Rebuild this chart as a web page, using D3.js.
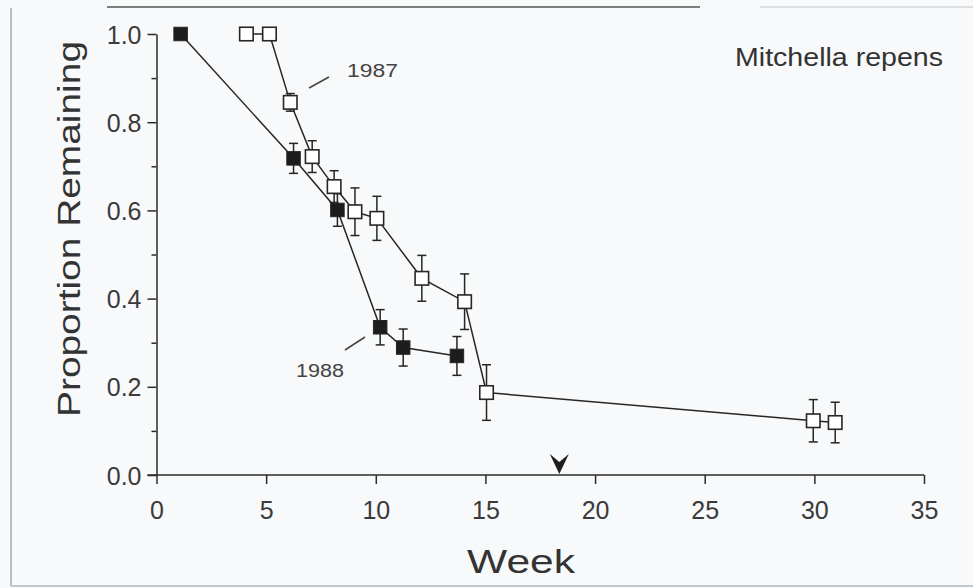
<!DOCTYPE html>
<html>
<head>
<meta charset="utf-8">
<script src="https://cdn.jsdelivr.net/npm/d3@7"></script>
<style>
  html, body { margin: 0; padding: 0; background: #f8f9fa; }
  svg { display: block; }
  text { font-family: "Liberation Sans", Arial, Helvetica, sans-serif; fill: #2b2b2b; }
  .axis path, .axis line { stroke: #2b2b2b; stroke-width: 1.5; }
  .axis text { font-size: 25px; fill: #3a3a3a; }
</style>
</head>
<body>
<div id="chart"></div>
<script>
// 1987 series (open squares)
let weeks1987 = [4.1, 5.15, 6.1, 7.1, 8.1, 9.05, 10.05, 12.1, 14.05, 15.05, 29.95, 30.95];
let prop1987  = [1.0, 1.0, 0.845, 0.722, 0.654, 0.597, 0.582, 0.446, 0.393, 0.187, 0.123, 0.119];
let err1987   = [0, 0, 0.02, 0.036, 0.036, 0.054, 0.05, 0.052, 0.063, 0.063, 0.048, 0.046];

// 1988 series (filled squares)
let weeks1988 = [1.1, 6.25, 8.25, 10.2, 11.25, 13.7];
let prop1988  = [1.0, 0.718, 0.601, 0.335, 0.289, 0.270];
let err1988   = [0, 0.034, 0.037, 0.04, 0.042, 0.044];

// axis ticks
let xTicks = [0, 5, 10, 15, 20, 25, 30, 35];
let yTicks = [0, 0.2, 0.4, 0.6, 0.8, 1.0];
let yMinorTicks = [0.1, 0.3, 0.5, 0.7, 0.9];

// week marked by the arrow
let arrowWeek = 18.37;

let width = 973;
let height = 588;

let svg = d3.select('#chart')
    .append('svg')
    .attr('width', width)
    .attr('height', height);

// scanned-page frame
svg.append('line').attr('x1', 11).attr('x2', 11).attr('y1', 8).attr('y2', 586)
    .style('stroke', '#b9bcc0').style('stroke-width', 2);
svg.append('line').attr('x1', 107).attr('x2', 700).attr('y1', 7).attr('y2', 7)
    .style('stroke', '#555').style('stroke-width', 1.5);
svg.append('line').attr('x1', 760).attr('x2', 973).attr('y1', 7).attr('y2', 7)
    .style('stroke', '#d4d6d9').style('stroke-width', 1.5);
svg.append('line').attr('x1', 11).attr('x2', 973).attr('y1', 586).attr('y2', 586)
    .style('stroke', '#c4c7ca').style('stroke-width', 2);

let xScale = d3.scaleLinear().domain([0, 35]).range([156.5, 924]);
let yScale = d3.scaleLinear().domain([0, 1]).range([475, 34]);

// x axis
let xAxis = d3.axisBottom(xScale)
    .tickValues(xTicks)
    .tickFormat(d3.format('d'))
    .tickSizeInner(9)
    .tickSizeOuter(0)
    .tickPadding(17);
svg.append('g')
    .classed('axis', true)
    .attr('transform', 'translate(0,' + yScale(0) + ')')
    .call(xAxis)
    .call(g => g.select('.domain').attr('d', 'M' + (xScale(0) - 9) + ',0H' + xScale(35)));

// y axis, minor ticks first
svg.append('g')
    .classed('axis', true)
    .attr('transform', 'translate(' + xScale(0) + ',0)')
    .call(d3.axisLeft(yScale).tickValues(yMinorTicks).tickSizeInner(5).tickSizeOuter(0).tickFormat(''))
    .call(g => g.select('.domain').remove());

svg.append('g')
    .classed('axis', true)
    .attr('transform', 'translate(' + xScale(0) + ',0)')
    .call(d3.axisLeft(yScale)
        .tickValues(yTicks)
        .tickFormat(d3.format('.1f'))
        .tickSizeInner(9)
        .tickSizeOuter(0)
        .tickPadding(6))
    .call(g => g.selectAll('.tick text').attr('dy', '0.36em'));

// axis titles
svg.append('text')
    .attr('x', 467).attr('y', 573)
    .attr('textLength', 108).attr('lengthAdjust', 'spacingAndGlyphs')
    .style('font-size', '33px')
    .style('fill', '#333')
    .text('Week');

svg.append('text')
    .attr('transform', 'translate(80,417) rotate(-90)')
    .attr('textLength', 376).attr('lengthAdjust', 'spacingAndGlyphs')
    .style('font-size', '31px')
    .style('fill', '#333')
    .text('Proportion Remaining');

svg.append('text')
    .attr('x', 735).attr('y', 66)
    .attr('textLength', 208).attr('lengthAdjust', 'spacingAndGlyphs')
    .style('font-size', '25px')
    .style('fill', '#333')
    .text('Mitchella repens');

// series annotations
svg.append('text')
    .attr('x', 347).attr('y', 77)
    .attr('textLength', 51).attr('lengthAdjust', 'spacingAndGlyphs')
    .style('font-size', '18px')
    .style('fill', '#444')
    .text('1987');
svg.append('line').attr('x1', 309).attr('y1', 88).attr('x2', 329).attr('y2', 77)
    .style('stroke', '#444').style('stroke-width', 1.5);

svg.append('text')
    .attr('x', 296).attr('y', 377)
    .attr('textLength', 48).attr('lengthAdjust', 'spacingAndGlyphs')
    .style('font-size', '18px')
    .style('fill', '#444')
    .text('1988');
svg.append('line').attr('x1', 345).attr('y1', 350).attr('x2', 365).attr('y2', 337)
    .style('stroke', '#444').style('stroke-width', 1.5);

// arrow marking a week on the x axis
let ax = xScale(arrowWeek);
let ay = yScale(0);
svg.append('path')
    .attr('d', 'M' + (ax - 9.5) + ',' + (ay - 21) + 'L' + ax + ',' + (ay - 13) +
        'L' + (ax + 9.5) + ',' + (ay - 21) + 'L' + ax + ',' + (ay - 1) + 'Z')
    .style('fill', '#1e1e1e');

// build rows for each series
let rows1987 = weeks1987.map((w, i) => ({week: w, prop: prop1987[i], err: err1987[i]}));
let rows1988 = weeks1988.map((w, i) => ({week: w, prop: prop1988[i], err: err1988[i]}));

let line = d3.line().x(d => xScale(d.week)).y(d => yScale(d.prop));

function drawSeries(rows, filled) {
    let g = svg.append('g');

    g.append('path')
        .attr('d', line(rows))
        .style('fill', 'none')
        .style('stroke', '#262626')
        .style('stroke-width', 1.5);

    let bars = g.selectAll('.errbar')
        .data(rows.filter(d => d.err > 0))
        .enter()
        .append('g')
        .classed('errbar', true)
        .style('stroke', '#262626')
        .style('stroke-width', 1.5);

    bars.append('line')
        .attr('x1', d => xScale(d.week)).attr('x2', d => xScale(d.week))
        .attr('y1', d => yScale(d.prop + d.err)).attr('y2', d => yScale(d.prop - d.err));
    bars.append('line')
        .attr('x1', d => xScale(d.week) - 4.5).attr('x2', d => xScale(d.week) + 4.5)
        .attr('y1', d => yScale(d.prop + d.err)).attr('y2', d => yScale(d.prop + d.err));
    bars.append('line')
        .attr('x1', d => xScale(d.week) - 4.5).attr('x2', d => xScale(d.week) + 4.5)
        .attr('y1', d => yScale(d.prop - d.err)).attr('y2', d => yScale(d.prop - d.err));

    let s = 13.5;
    g.selectAll('.marker')
        .data(rows)
        .enter()
        .append('rect')
        .classed('marker', true)
        .attr('x', d => xScale(d.week) - s / 2)
        .attr('y', d => yScale(d.prop) - s / 2)
        .attr('width', s)
        .attr('height', s)
        .style('fill', filled ? '#1c1c1c' : '#ffffff')
        .style('stroke', '#262626')
        .style('stroke-width', filled ? 1 : 1.6);
}

drawSeries(rows1988, true);
drawSeries(rows1987, false);
</script>
</body>
</html>
